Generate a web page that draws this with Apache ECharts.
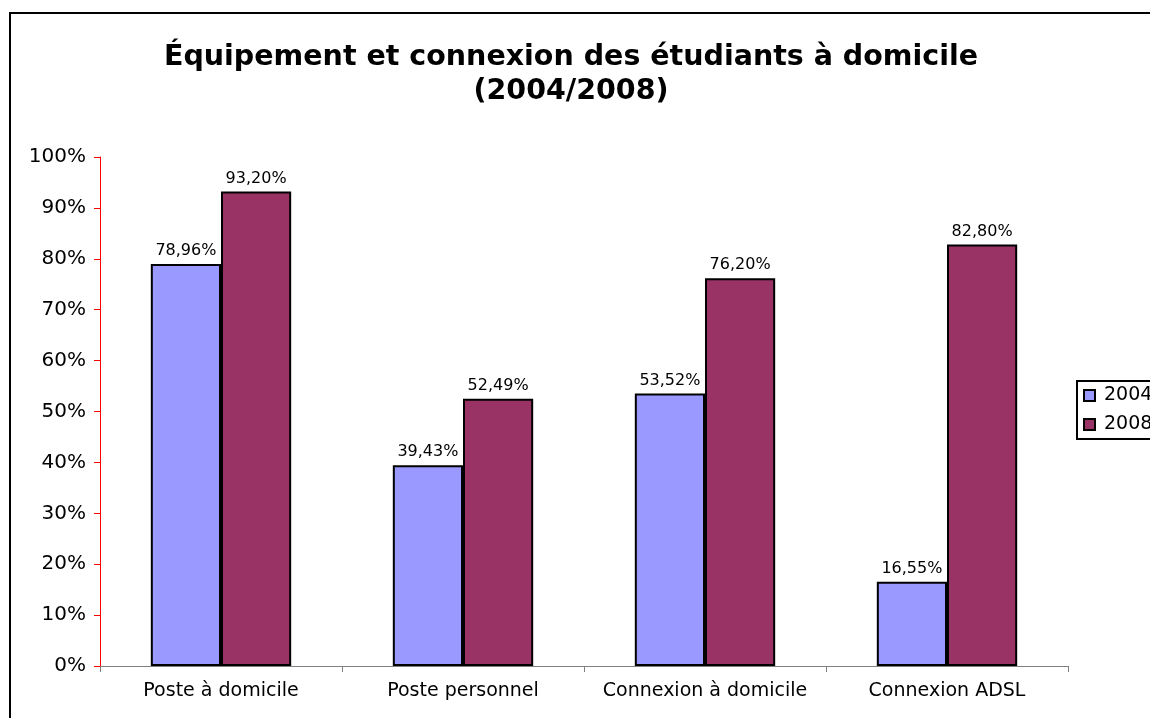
<!DOCTYPE html>
<html>
<head>
<meta charset="utf-8">
<script src="https://cdn.jsdelivr.net/npm/echarts@6/dist/echarts.min.js"></script>
<style>
  html, body { margin: 0; padding: 0; background: #fff; }
  #chart { width: 1150px; height: 718px; }
</style>
</head>
<body>
<div id="chart"></div>
<script>
const categories = ["Poste à domicile", "Poste personnel", "Connexion à domicile", "Connexion ADSL"];
const values2004 = [78.96, 39.43, 53.52, 16.55];
const values2008 = [93.2, 52.49, 76.2, 82.8];
const seriesNames = ["2004", "2008"];

const chart = echarts.init(document.getElementById("chart"));
const fontFamily = "Verdana, 'DejaVu Sans', sans-serif";

// 78.96 -> "78,96%"
function pct(v) {
  return v.toFixed(2).replace(".", ",") + "%";
}

const barLabel = {
  show: true,
  position: "top",
  distance: 5,
  color: "#000",
  fontSize: 16,
  fontFamily: fontFamily,
  formatter: p => pct(p.value)
};

const options = {
  animation: false,
  backgroundColor: "#fff",
  title: {
    text: "Équipement et connexion des étudiants à domicile\n(2004/2008)",
    left: 566,
    textAlign: "center",
    top: 36,
    textStyle: {
      fontFamily: fontFamily,
      fontSize: 28.5,
      fontWeight: "bold",
      color: "#000",
      lineHeight: 34
    }
  },
  legend: {
    data: seriesNames,
    orient: "vertical",
    left: 1077,
    top: 381,
    padding: [5, 10, 5, 6],
    itemGap: 10,
    itemWidth: 11,
    itemHeight: 11,
    icon: "rect",
    borderColor: "#000",
    borderWidth: 2,
    textStyle: { fontFamily: fontFamily, fontSize: 19, color: "#000", padding: [0, 0, 0, 4] }
  },
  grid: {
    left: 100,
    right: 82,
    top: 157,
    bottom: 52,
    containLabel: false
  },
  xAxis: {
    type: "category",
    data: categories,
    axisLine: { lineStyle: { color: "#808080", width: 1 } },
    axisTick: { show: true, length: 6, lineStyle: { color: "#808080" } },
    axisLabel: {
      interval: 0,
      color: "#000",
      fontFamily: fontFamily,
      fontSize: 19,
      margin: 16
    }
  },
  yAxis: {
    type: "value",
    min: 0,
    max: 100,
    interval: 10,
    z: 5,
    axisLine: { show: true, lineStyle: { color: "#ff0000", width: 1 } },
    axisTick: { show: true, length: 6, lineStyle: { color: "#ff0000" } },
    splitLine: { show: false },
    axisLabel: {
      color: "#000",
      fontFamily: fontFamily,
      fontSize: 20,
      margin: 14,
      formatter: v => v + "%"
    }
  },
  series: [
    {
      name: seriesNames[0],
      type: "bar",
      data: values2004,
      barGap: "0%",
      barCategoryGap: "42%",
      itemStyle: { color: "#9999ff", borderColor: "#000", borderWidth: 2 },
      label: barLabel
    },
    {
      name: seriesNames[1],
      type: "bar",
      data: values2008,
      itemStyle: { color: "#993366", borderColor: "#000", borderWidth: 2 },
      label: barLabel
    }
  ],
  graphic: [
    {
      type: "rect",
      shape: { x: 10, y: 13, width: 1160, height: 720 },
      style: { fill: null, stroke: "#000", lineWidth: 2 },
      silent: true
    }
  ]
};

chart.setOption(options);
</script>
</body>
</html>
